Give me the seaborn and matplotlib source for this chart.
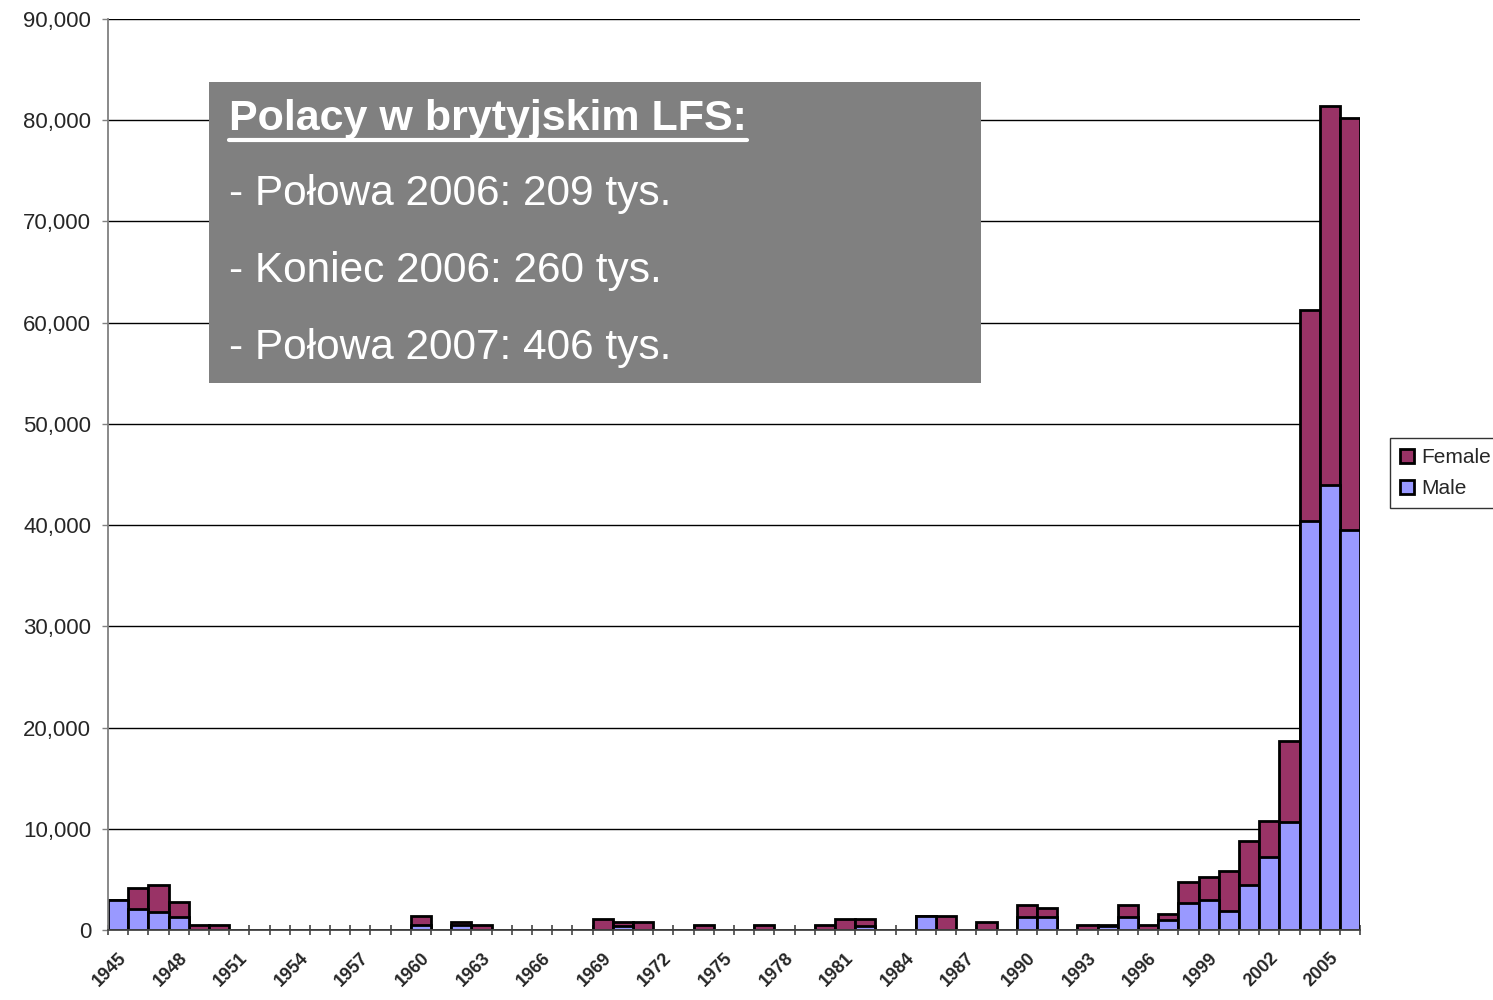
import numpy as np
import pandas as pd
import matplotlib
matplotlib.use("Agg")
import matplotlib.pyplot as plt
import seaborn as sns
from matplotlib.patches import Patch, Rectangle
from matplotlib.lines import Line2D

# year of arrival, 1945-2006
years = list(range(1945, 2007))

male = [3000, 2100, 1800, 1300, 0, 0, 0, 0, 0, 0,
        0, 0, 0, 0, 0, 500, 0, 450, 0, 0,
        0, 0, 0, 0, 0, 400, 0, 0, 0, 0,
        0, 0, 0, 0, 0, 0, 0, 400, 0, 0,
        1400, 0, 0, 0, 0, 1300, 1300, 0, 0, 400,
        1300, 0, 1000, 2700, 3000, 1900, 4400, 7200, 10700, 40400,
        44000, 39500]

female = [0, 2050, 2650, 1450, 500, 500, 0, 0, 0, 0,
          0, 0, 0, 0, 0, 900, 0, 350, 500, 0,
          0, 0, 0, 0, 1100, 400, 800, 0, 0, 500,
          0, 0, 500, 0, 0, 500, 1100, 700, 0, 0,
          0, 1400, 0, 800, 0, 1200, 900, 0, 500, 100,
          1200, 500, 600, 2000, 2200, 3900, 4400, 3600, 8000, 20900,
          37400, 40700]

tick_years = years[::3]

df = pd.DataFrame({"year": years, "male": male, "female": female})
df["total"] = df["male"] + df["female"]

purple = "#993366"
blue = "#9999FF"

sns.set_style("white")
plt.rcParams["font.family"] = ["Liberation Sans", "DejaVu Sans"]

fig = plt.figure(figsize=(14.93, 10), dpi=100)
ax = fig.add_axes([0.0723, 0.07, 0.8387, 0.911])

sns.barplot(data=df, x="year", y="total", color=purple, saturation=1,
            width=1.0, edgecolor="black", linewidth=2.0, ax=ax, errorbar=None)
sns.barplot(data=df, x="year", y="male", color=blue, saturation=1,
            width=1.0, edgecolor="black", linewidth=2.0, ax=ax, errorbar=None)

ax.set_xlim(-0.5, len(years) - 0.5)
ax.set_ylim(0, 90000)
ax.set_yticks(np.arange(0, 90001, 10000))
ax.set_yticklabels([f"{v:,}" for v in range(0, 90001, 10000)], fontsize=16)
ax.yaxis.grid(True, color="black", linewidth=1.0)
ax.set_axisbelow(True)

pos = [years.index(y) for y in tick_years]
ax.set_xticks(pos)
ax.set_xticklabels([str(y) for y in tick_years], rotation=45, ha="right",
                   rotation_mode="anchor", fontsize=13, fontweight="bold")
ax.set_xticks(np.arange(-0.5, len(years), 1), minor=True)
ax.tick_params(axis="x", which="major", length=0, pad=14)
ax.tick_params(axis="x", which="minor", length=7, width=1.2, direction="inout",
               color="#444444", bottom=True)
ax.tick_params(axis="y", length=4, width=1, color="#808080", left=True, pad=8)
ax.set_xlabel("")
ax.set_ylabel("")

for s in ["top", "right"]:
    ax.spines[s].set_visible(False)
ax.spines["left"].set_color("#808080")
ax.spines["left"].set_linewidth(1.3)
ax.spines["bottom"].set_color("#444444")
ax.spines["bottom"].set_linewidth(1.3)

handles = [Patch(facecolor=purple, edgecolor="black", linewidth=2.0, label="Female"),
           Patch(facecolor=blue, edgecolor="black", linewidth=2.0, label="Male")]
fig.legend(handles=handles, loc="upper left", bbox_to_anchor=(0.931, 0.562),
           fontsize=15, frameon=True, fancybox=False, edgecolor="black",
           handlelength=0.65, handleheight=0.65, handletextpad=0.35,
           borderpad=0.5, labelspacing=0.55, borderaxespad=0)

# grey info box
fig.add_artist(Rectangle((0.14, 0.617), 0.517, 0.301, transform=fig.transFigure,
                         facecolor="#808080", edgecolor="none", zorder=5))
title = fig.text(0.1535, 0.881, "Polacy w brytyjskim LFS:", color="white",
                 fontsize=31, fontweight="bold", va="center", ha="left", zorder=6)
lines = ["- Połowa 2006: 209 tys.", "- Koniec 2006: 260 tys.", "- Połowa 2007: 406 tys."]
for k, t in enumerate(lines):
    fig.text(0.1535, 0.806 - k * 0.077, t, color="white", fontsize=30.5,
             va="center", ha="left", zorder=6)

fig.canvas.draw()
bb = title.get_window_extent().transformed(fig.transFigure.inverted())
fig.add_artist(Line2D([bb.x0, bb.x1], [0.860, 0.860], transform=fig.transFigure,
                      color="white", linewidth=3, zorder=6))

fig.savefig("out.png", dpi=100)
